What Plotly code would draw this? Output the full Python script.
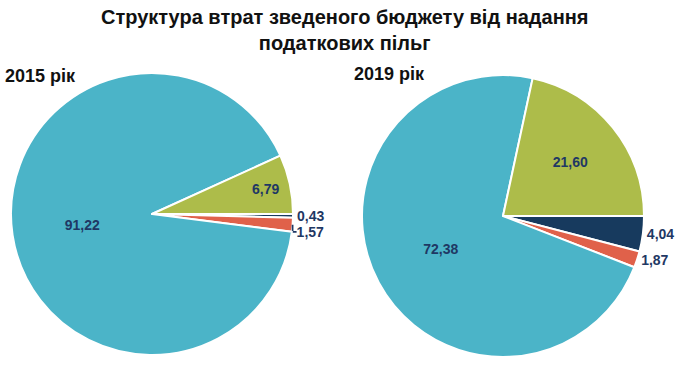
import plotly.graph_objects as go

categories = ["Категорія D", "Категорія C", "Категорія B", "Категорія A"]
values_2015 = [0.43, 1.57, 91.22, 6.79]
values_2019 = [4.04, 1.87, 72.38, 21.60]
colors = ["#173a5e", "#e0614a", "#4bb4c8", "#adbc4a"]
positions = ["outside", "outside", "inside", "inside"]

title_text = "Структура втрат зведеного бюджету від надання<br>податкових пільг"
label_2015 = "2015 рік"
label_2019 = "2019 рік"

W, H = 690, 365


def fmt(vals):
    return [f"{v:.2f}".replace(".", ",") for v in vals]


def dom(cx, cy, r):
    return dict(x=[(cx - r) / W, (cx + r) / W], y=[(H - cy - r) / H, (H - cy + r) / H])


fig = go.Figure()
common = dict(
    sort=False,
    direction="clockwise",
    rotation=90,
    marker=dict(colors=colors, line=dict(color="white", width=2)),
    texttemplate="<b>%{text}</b>",
    textposition=positions,
    textfont=dict(family="Liberation Sans", size=14, color="#1f3864"),
    insidetextorientation="horizontal",
    hoverinfo="label+value",
    showlegend=False,
)
fig.add_trace(go.Pie(labels=categories, values=values_2015, text=fmt(values_2015),
                     domain=dom(152, 214, 141), **common))
fig.add_trace(go.Pie(labels=categories, values=values_2019, text=fmt(values_2019),
                     domain=dom(503, 216, 141), **common))

fig.update_layout(
    width=W, height=H,
    margin=dict(l=0, r=0, t=0, b=0),
    paper_bgcolor="white",
    annotations=[
        dict(text="<b>" + title_text + "</b>", x=0.5, y=1 - 4 / H, xref="paper", yref="paper",
             xanchor="center", yanchor="top", showarrow=False,
             font=dict(family="Liberation Sans", size=20, color="#111111")),
        dict(text="<b>" + label_2015 + "</b>", x=3 / W, y=1 - 64 / H, xref="paper", yref="paper",
             xanchor="left", yanchor="top", showarrow=False,
             font=dict(family="Liberation Sans", size=18, color="#111111")),
        dict(text="<b>" + label_2019 + "</b>", x=352 / W, y=1 - 62 / H, xref="paper", yref="paper",
             xanchor="left", yanchor="top", showarrow=False,
             font=dict(family="Liberation Sans", size=18, color="#111111")),
    ],
)

fig.write_html("out.html", config={"displayModeBar": False},
               post_script="document.body.style.margin='0';")
